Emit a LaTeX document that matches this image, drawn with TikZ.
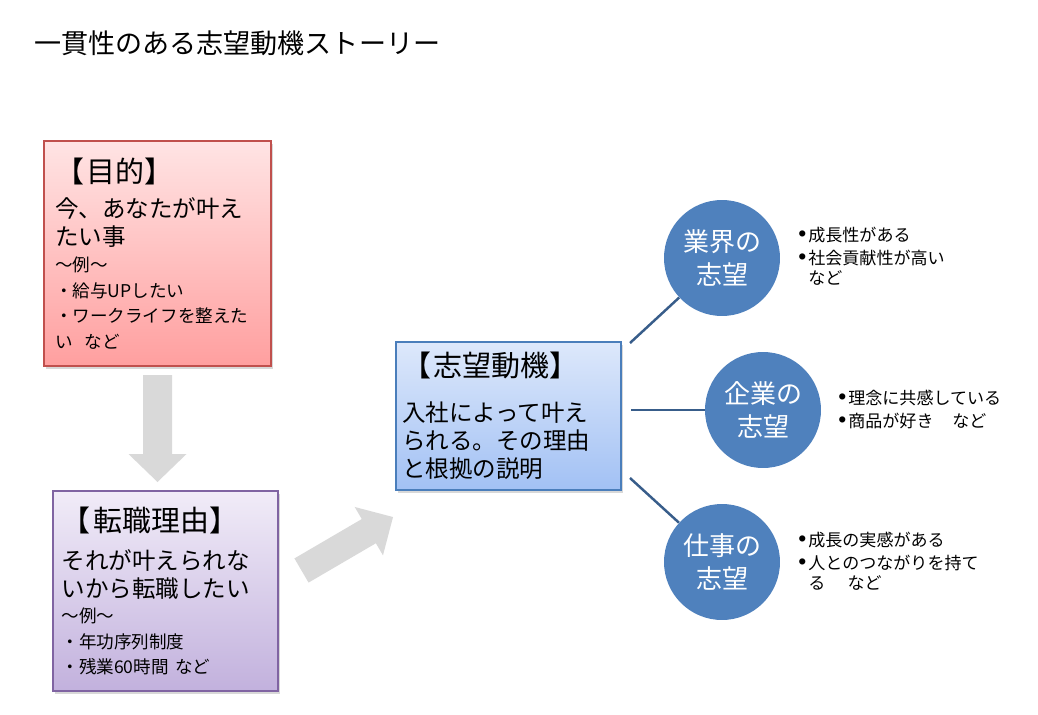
\documentclass[tikz,border=0pt]{standalone}
\usepackage{fontspec}
\setmainfont{Noto Sans CJK JP}
\newfontfamily\bulfont{Liberation Sans}
\usetikzlibrary{shadows}
\setlength{\parindent}{0pt}
\setlength{\parskip}{0pt}

\definecolor{goaltop}{HTML}{FFE4E4}
\definecolor{goalbot}{HTML}{FF9F9F}
\definecolor{goalline}{HTML}{C0504D}
\definecolor{reasontop}{HTML}{F1ECF8}
\definecolor{reasonbot}{HTML}{C2B1DD}
\definecolor{reasonline}{HTML}{8064A2}
\definecolor{motivetop}{HTML}{DDE8FB}
\definecolor{motivebot}{HTML}{A2C1F4}
\definecolor{motiveline}{HTML}{4A7EBB}
\definecolor{wishblue}{HTML}{4F81BD}
\definecolor{linkblue}{HTML}{385D8A}
\definecolor{arrowgray}{HTML}{D9D9D9}

\newcommand{\hdrfont}{\fontsize{16.5}{20}\selectfont}
\newcommand{\bodyfont}{\fontsize{13.4}{15.9}\selectfont}
\newcommand{\exfont}{\fontsize{10}{14.6}\selectfont}
\newcommand{\hdr}[1]{{\hdrfont 【\hspace{0.1em}#1】\par}}
\newcommand{\bul}{\makebox[0.2cm][l]{\bulfont\fontsize{13}{13}\selectfont •}}

\begin{document}
\begin{tikzpicture}[x=0.02cm,y=-0.02cm]
    \tikzstyle{card}=[draw,line width=0.8pt,align=left,inner ysep=0pt,
        drop shadow={shadow xshift=1.2pt,shadow yshift=-1.5pt,opacity=0.3}]
    \tikzstyle{wish}=[circle,fill=wishblue,minimum size=2.32cm,inner sep=0pt,
        text=white,align=center,font=\fontsize{14.8}{18.8}\selectfont]
    \tikzstyle{note}=[anchor=north west,align=left,inner sep=0pt,
        font=\fontsize{9.7}{11.4}\selectfont]
    \tikzstyle{link}=[draw=linkblue,line width=1.4pt]
    \tikzstyle{bigarrow}=[fill=arrowgray]

    \fill[white] (0,0) rectangle (1038,714);

    \node[anchor=west,inner sep=0pt,font=\fontsize{15.4}{18}\selectfont] (title) at (34,43)
        {一貫性のある志望動機ストーリー};

    % gray block arrows
    \begin{scope}[shift={(157.5,375)},rotate=-90]
    \fill[bigarrow] (0,-14.5) -- (79,-14.5) -- (79,-29) -- (107,0) -- (79,29) -- (79,14.5) -- (0,14.5) -- cycle;
    \end{scope}
    \begin{scope}[shift={(301.5,570.5)},rotate=30.3]
    \fill[bigarrow] (0,-14) -- (78,-14) -- (78,-28) -- (106,0) -- (78,28) -- (78,14) -- (0,14) -- cycle;
    \end{scope}

    % boxes
    \node[card,top color=goaltop,bottom color=goalbot,draw=goalline,
        inner xsep=0.22cm,text width=4.1cm,minimum height=4.5cm] (goal) at (157.5,253.5)
        {\hdr{目的}\vspace{4.5pt}
         {\bodyfont 今、あなたが叶え\\たい事\par}
         {\exfont 〜例〜\\・給与UPしたい\\・ワークライフを整えた\\い\hspace{0.7em}など\par}};

    \node[card,top color=reasontop,bottom color=reasonbot,draw=reasonline,
        inner xsep=0.17cm,text width=4.16cm,minimum height=4cm] (reason) at (165.5,591)
        {\hdr{転職理由}\vspace{5.7pt}
         {\bodyfont それが叶えられな\\いから転職したい\par}
         {\exfont 〜例〜\\・年功序列制度\\・残業60時間\hspace{0.35em}など\par}};

    \node[card,top color=motivetop,bottom color=motivebot,draw=motiveline,
        inner xsep=0.12cm,text width=4.26cm,minimum height=2.96cm] (motive) at (508.5,416)
        {\hdr{志望動機}\vspace{9.7pt}
         {\bodyfont 入社によって叶え\\られる。その理由\\と根拠の説明\par}};

    % circles
    \node[wish] (industry) at (722,258) {業界の\\志望};
    \node[wish] (company) at (763,410) {企業の\\志望};
    \node[wish] (job) at (722,562) {仕事の\\志望};

    \coordinate (m1) at (630,343);
    \coordinate (m2) at (631,410);
    \coordinate (m3) at (630,478);
    \draw[link] (m1) -- (industry);
    \draw[link] (m2) -- (company);
    \draw[link] (m3) -- (job);

    % notes
    \node[note] (n1) at (798,227) {\bul 成長性がある\\[1.7pt]\bul 社会貢献性が高い\\\hspace*{0.2cm}など};
    \node[note] (n2) at (838,390) {\bul 理念に共感している\\[1.7pt]\bul 商品が好き\hspace{1.1em}など};
    \node[note] (n3) at (798,532) {\bul 成長の実感がある\\[1.7pt]\bul 人とのつながりを持て\\\hspace*{0.2cm}る\hspace{1.3em}など};
\end{tikzpicture}
\end{document}
